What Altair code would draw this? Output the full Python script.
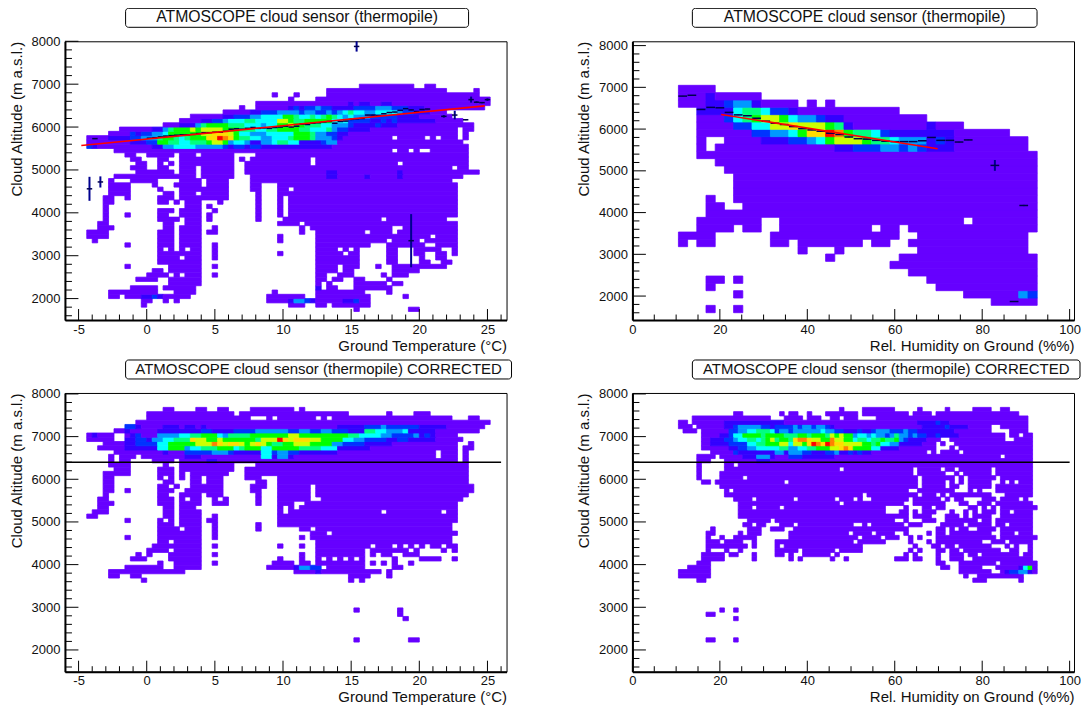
import altair as alt
import pandas as pd

TITLE_A = "ATMOSCOPE cloud sensor (thermopile)"
TITLE_B = "ATMOSCOPE cloud sensor (thermopile) CORRECTED"
XT_TEMP = "Ground Temperature (°C)"
XT_HUM = "Rel. Humidity on Ground (%%)"
YT = "Cloud Altitude (m a.s.l.)"

LEVEL_COLORS = ["#6600ff", "#3300ff", "#0033ff", "#0099ff", "#00ffff", "#00ff80",
                "#00ff00", "#ccff00", "#ffdd00", "#ff8000", "#ff0000"]

# occupied bins per row: {row: [(first_bin, end_bin), ...]}
P1_RUNS = {
54: [(54,64),(66,68)],
53: [(48,70),(75,76)],
52: [(38,39),(42,43),(48,76)],
51: [(41,42),(46,78)],
50: [(35,78)],
49: [(32,33),(35,77)],
48: [(29,70)],
47: [(23,71)],
46: [(21,73)],
45: [(18,75)],
44: [(10,72),(73,75)],
43: [(8,72),(73,74)],
42: [(4,60),(61,66),(67,68),(69,72),(73,74)],
41: [(4,73)],
40: [(4,74)],
39: [(9,60),(61,63),(64,65),(67,74)],
38: [(11,13),(15,20),(21,24),(25,31),(35,74)],
37: [(12,14),(17,19),(21,31),(32,33),(34,45),(46,74)],
36: [(13,15),(17,18),(19,20),(21,31),(33,45),(46,61),(62,74)],
35: [(12,15),(17,19),(21,24),(25,31),(33,71),(72,74)],
34: [(13,20),(21,24),(25,31),(33,76)],
33: [(9,20),(20,24),(25,31),(34,73)],
32: [(8,9),(12,17),(21,25),(26,30),(34,71)],
31: [(8,12),(16,17),(20,25),(26,30),(34,36),(39,72)],
30: [(8,12),(17,18),(21,25),(25,30),(34,36),(39,41),(42,72)],
29: [(8,12),(18,20),(21,24),(25,30),(35,36),(39,72)],
28: [(7,9),(11,12),(17,20),(21,30),(35,36),(39,40),(41,72)],
27: [(7,9),(17,19),(20,21),(22,25),(28,29),(35,36),(39,40),(41,72)],
26: [(7,8),(22,25),(26,27),(35,36),(39,40),(41,72)],
25: [(7,8),(17,20),(21,25),(27,28),(35,36),(39,40),(41,72)],
24: [(7,8),(11,12),(17,19),(21,25),(26,27),(35,36),(39,40),(41,72)],
23: [(7,8),(17,21),(22,25),(26,27),(35,36),(40,58),(59,70)],
22: [(6,8),(18,20),(22,25),(39,43),(44,72)],
21: [(6,9),(18,20),(21,25),(27,28),(43,44),(45,60),(62,72)],
20: [(4,8),(17,20),(21,25),(26,28),(43,44),(46,55),(56,60),(61,72)],
19: [(4,8),(17,20),(21,25),(39,40),(46,67),(68,72)],
18: [(5,6),(17,20),(21,25),(39,40),(46,59),(60,65),(66,72)],
17: [(11,12),(17,20),(21,25),(27,28),(46,56),(59,66),(68,72)],
16: [(17,18),(19,20),(21,22),(23,25),(27,28),(46,50),(51,52),(53,54),(59,61),(64,69),(71,72)],
15: [(17,25),(27,28),(39,40),(46,51),(52,54),(59,61),(64,66),(68,70),(71,72)],
14: [(17,21),(22,25),(27,28),(46,54),(59,61),(65,66),(68,70)],
13: [(17,25),(46,54),(59,61),(65,67),(69,71)],
12: [(11,12),(19,25),(27,28),(46,50),(51,54),(57,58),(60,70)],
11: [(16,18),(19,25),(46,50),(51,53),(60,65)],
10: [(15,19),(20,21),(22,25),(27,28),(46,48),(50,53),(58,59),(60,63)],
9:  [(13,17),(19,25),(46,48),(49,51),(53,55),(59,60)],
8:  [(19,25),(46,47),(48,49),(53,59),(60,62)],
7:  [(12,17),(18,24),(46,47),(48,50),(53,60)],
6:  [(8,17),(20,24),(38,39),(46,55),(59,60)],
5:  [(8,10),(11,21),(21,23),(37,44),(46,56),(62,63)],
4:  [(14,16),(18,19),(20,21),(37,56)],
3:  [(14,15),(41,44),(46,48),(49,56)],
2:  [(53,54),(63,65)],
}
P1_HOT = [
(50,(52,"10110011")),
(49,(41,"121223221"+"111"+"222"+"23332"+"22111")),
(48,(34,"11222"+"333"+"32332232"+"345443344443"+"22111")),
(47,(29,"11222"+"334"+"444"+"6"+"6"+"54454565"+"43433"+"32222"+"21111")),
(46,(25,"1122"+"344"+"4554"+"444"+"77"+"655666"+"66"+"444"+"222"+"2112121111111")),
(45,(21,"111"+"3566"+"66"+"5554"+"443"+"44"+"66"+"76"+"655"+"544333"+"2111"+"12111")),
(44,(16,"11"+"356"+"667677"+"77"+"666"+"55544"+"556666"+"554445"+"3221111")),
(43,(12,"2122"+"334"+"6666667"+"7888"+"76"+"44333"+"44444"+"6665"+"3322"+"11")),
(42,(7,"01111"+"22333"+"566545666"+"88"+"a"+"9"+"8"+"65544"+"334445"+"6665"+"3332"+"1")),
(41,(12,"11122"+"6655"+"44555"+"6776"+"3443"+"11"+"33455"+"44"+"1111"+"2"+"33")),
(40,(4,"21")),
(40,(16,"11"+"33444433"+"3332"+"1221"+"22"+"11111"+"11111111")),
(34,(48,"11")),(34,(61,"1")),
(33,(48,"11")),(33,(55,"1")),(33,(61,"1")),
(4,(41,"13321")),(5,(14,"1121")),(4,(51,"112")),
(7,(46,"1")),
]

P2_RUNS = {
31: [(5,9)],
30: [(5,14)],
29: [(5,18),(19,20),(21,22)],
28: [(7,29)],
27: [(7,32)],
26: [(7,36)],
25: [(7,41)],
24: [(7,8),(10,43)],
23: [(7,8),(9,43)],
22: [(7,44)],
21: [(9,44)],
20: [(10,44)],
19: [(11,44)],
18: [(11,44)],
17: [(11,44)],
16: [(8,9),(11,44)],
15: [(8,10),(12,44)],
14: [(8,44)],
13: [(7,14),(16,36),(37,44)],
12: [(7,11),(12,14),(16,26),(27,29),(30,44)],
11: [(5,9),(15,29),(31,43)],
10: [(5,6),(7,9),(15,17),(18,25),(26,28),(30,43)],
9:  [(18,19),(22,23),(31,43)],
8:  [(21,22),(29,44)],
7:  [(28,44)],
6:  [(30,44)],
5:  [(8,10),(11,12),(32,44)],
4:  [(8,9),(33,44)],
3:  [(11,12),(36,44)],
2:  [(39,44)],
1:  [(8,9),(11,12)],
}
P2_HOT = [
(30,(8,"1")),
(29,(8,"112331")),
(28,(7,"11114554221")),
(27,(10,"2456776433211")),
(26,(11,"2244778777651")),
(26,(32,"1")),
(25,(13,"22334688a9655421111111")),
(24,(14,"111223467776554333121")),
(23,(22,"1122233232111")),
(3,(42,"32")),
]

P3_RUNS = {
61: [(18,20),(24,26),(28,30),(34,42),(43,44)],
60: [(15,31),(32,52),(59,60),(64,67)],
59: [(15,34),(37,38),(39,46),(47,48),(49,71),(74,76)],
58: [(13,78)],
57: [(11,77)],
56: [(9,76)],
55: [(4,9),(11,72)],
54: [(4,9),(11,73)],
53: [(7,72),(74,75)],
52: [(6,72),(73,75)],
51: [(9,68),(69,72),(73,74)],
50: [(8,9),(10,13),(14,68),(69,72),(73,74)],
49: [(8,9),(10,12),(16,20),(21,72),(73,74)],
48: [(8,12),(18,19),(21,31),(35,74)],
47: [(9,12),(17,20),(21,31),(33,74)],
46: [(7,12),(17,20),(21,22),(23,30),(33,74)],
45: [(7,9),(17,18),(19,20),(21,22),(23,25),(26,29),(33,36),(39,74)],
44: [(7,9),(18,20),(23,25),(26,29),(35,37),(39,74)],
43: [(7,9),(17,19),(20,21),(23,29),(34,37),(39,45),(46,75)],
42: [(7,9),(11,12),(17,20),(22,29),(34,36),(39,45),(46,75)],
41: [(7,8),(17,19),(21,25),(26,29),(35,36),(39,45),(46,74)],
40: [(6,8),(17,20),(21,22),(23,25),(27,28),(29,30),(35,36),(39,45),(47,73)],
39: [(6,9),(17,20),(21,25),(27,30),(35,36),(39,42),(44,46),(46,72)],
38: [(6,8),(18,20),(21,24),(39,40),(41,42),(43,72)],
37: [(5,8),(18,20),(21,25),(39,40),(41,58),(59,69),(70,72)],
36: [(4,6),(18,20),(21,25),(27,28),(39,72)],
35: [(11,12),(17,18),(19,20),(21,25),(26,27),(27,28),(39,72)],
34: [(17,20),(21,25),(27,28),(35,36),(39,71)],
33: [(17,21),(22,25),(27,28),(35,36),(43,45),(46,71)],
32: [(17,25),(27,28),(45,48),(49,72)],
31: [(11,12),(17,25),(27,28),(43,44),(45,71)],
30: [(17,19),(20,25),(46,71)],
29: [(16,21),(21,25),(27,28),(39,40),(43,44),(46,56),(57,60),(61,62),(63,64),(65,66),(67,69),(70,72)],
28: [(15,16),(16,19),(20,25),(46,55),(56,63),(64,65),(69,70),(71,72)],
27: [(13,14),(15,16),(19,25),(27,28),(43,44),(46,55),(56,57),(58,60),(62,65)],
26: [(12,15),(19,25),(39,40),(43,44),(46,47),(48,49),(50,51),(52,53),(54,55),(60,61),(65,69),(71,72)],
25: [(17,18),(20,25),(27,28),(38,42),(43,45),(46,55),(56,57),(58,59),(60,61),(63,64)],
24: [(11,18),(20,25),(37,45),(46,47),(48,55),(60,62)],
23: [(8,22),(42,46),(46,58),(59,60)],
22: [(8,10),(12,14),(52,56),(59,60)],
21: [(14,15),(52,53),(54,55)],
14: [(53,54),(61,62)],
13: [(61,62)],
12: [(62,63)],
7:  [(53,54),(63,65)],
}
P3_HOT = [
(57,(11,"221")),
(57,(18,"11101101")),
(57,(50,"11111222322222211111")),
(56,(11,"1")),
(56,(17,"11111111")),
(56,(25,"221111"+"2222"+"333333"+"22332233"+"222111"+"5544"+"3334"+"11111")),
(55,(5,"1")),(55,(12,"12")),
(55,(17,"33"+"33"+"4455"+"666"+"43"+"5555"+"66"+"6666"+"677"+"6666"+"66666"+"55"+"4444"+"33"+"2222"+"3121")),
(54,(11,"1"+"1221"+"33"+"44"+"555"+"87766"+"766"+"6666"+"577"+"7"+"a"+"87"+"888"+"7766"+"66"+"44"+"3322"+"22"+"112211111")),
(53,(11,"1"+"122"+"22"+"44"+"666"+"66777"+"98"+"78"+"876787"+"655"+"66777"+"6666"+"33"+"222211111")),
(52,(11,"111111"+"44"+"666"+"3"+"44555"+"666"+"45"+"666"+"44"+"66666"+"5555"+"444"+"111111")),
(51,(18,"1")),
(51,(22,"22222333211111"+"44"+"2332"+"211"+"111"+"11")),
(50,(22,"111")),(50,(36,"441331")),
(49,(26,"11")),
(23,(46,"1")),(24,(42,"13322")),
]

P4_RUNS = {
61: [(45,46),(50,57),(62,63),(68,69),(74,78),(80,82)],
60: [(22,24),(32,33),(34,36),(38,39),(42,49),(50,53),(53,60),(61,65),(66,84)],
59: [(13,30),(33,37),(38,41),(43,45),(46,49),(53,86)],
58: [(10,12),(13,86)],
57: [(10,13),(14,78),(80,86)],
56: [(11,14),(15,78),(82,86)],
55: [(15,81),(82,84),(85,87)],
54: [(15,67),(69,81),(83,87)],
53: [(15,66),(67,68),(70,87)],
52: [(15,66),(69,70),(71,87)],
51: [(17,64),(65,66),(67,71),(72,87)],
50: [(14,18),(19,80),(81,87)],
49: [(14,17),(20,87)],
48: [(14,15),(20,22),(23,87)],
47: [(14,15),(20,45),(46,61),(62,67),(68,70),(71,78),(79,87)],
46: [(14,15),(19,61),(62,68),(70,71),(72,78),(79,87)],
45: [(14,15),(19,24),(25,62),(63,70),(71,72),(73,79),(80,87)],
44: [(15,17),(18,33),(34,62),(63,68),(69,70),(71,72),(73,78),(80,81),(82,83),(84,87)],
43: [(19,62),(63,68),(69,71),(73,78),(79,87)],
42: [(20,21),(22,60),(62,70),(73,74),(75,76),(79,87)],
41: [(20,50),(51,62),(63,66),(67,68),(69,78),(81,87)],
40: [(22,26),(27,35),(36,44),(45,48),(49,50),(52,60),(61,67),(68,69),(70,72),(76,79),(80,84),(85,86)],
39: [(23,45),(46,59),(61,68),(71,73),(75,78),(79,87)],
38: [(23,26),(27,32),(33,55),(59,60),(63,65),(66,68),(73,75),(76,77),(78,79),(80,88)],
37: [(23,55),(58,60),(61,62),(63,66),(69,70),(72,73),(74,75),(76,79),(80,82),(83,87)],
36: [(23,60),(61,65),(68,71),(72,73),(74,78),(80,87)],
35: [(25,30),(31,57),(59,60),(63,66),(68,75),(76,78),(79,87)],
34: [(24,26),(27,29),(32,35),(36,48),(50,51),(52,59),(60,63),(67,72),(73,78),(79,81),(82,87)],
33: [(17,18),(25,28),(30,33),(35,60),(66,68),(69,70),(71,73),(75,79),(80,87)],
32: [(16,18),(23,24),(25,28),(34,47),(48,52),(53,57),(59,60),(64,65),(66,68),(69,78),(80,83),(84,87)],
31: [(16,17),(19,20),(22,27),(34,49),(50,54),(55,58),(60,61),(62,63),(66,79),(80,88)],
30: [(16,19),(20,24),(26,27),(31,48),(49,55),(60,61),(64,65),(66,76),(78,81),(82,87)],
29: [(16,25),(26,27),(31,32),(33,50),(61,62),(65,67),(68,70),(71,78),(81,82),(83,84),(86,87)],
28: [(16,17),(20,21),(23,24),(31,36),(37,44),(45,50),(60,61),(62,63),(66,68),(69,71),(72,80),(82,84),(86,87)],
27: [(15,20),(21,23),(26,27),(31,33),(34,35),(37,43),(44,45),(59,60),(61,62),(66,67),(69,72),(73,75),(76,84),(85,87)],
26: [(15,20),(26,27),(34,35),(36,37),(43,44),(46,47),(57,60),(61,63),(66,67),(69,72),(74,87)],
25: [(14,17),(66,68),(71,79),(80,88)],
24: [(12,17),(67,69),(71,76),(79,88)],
23: [(10,17),(71,78),(80,88)],
22: [(10,17),(72,73),(75,85)],
21: [(14,16),(74,77),(84,85)],
14: [(19,20),(22,23)],
13: [(16,18)],
12: [(22,23)],
7:  [(16,18),(22,23)],
}
P4_HOT = [
(58,(20,"1111111111111")),(58,(62,"1111211")),
(57,(20,"11233333221"+"2222323323321")),(57,(63,"1111121111")),
(56,(21,"2233"+"445554"+"2332"+"333333433"+"221112112"+"33322"+"232211"+"111111")),
(55,(19,"112"+"44"+"6666"+"566"+"6655"+"56656665"+"76766"+"34434"+"33235"+"332322"+"1121111")),
(54,(17,"11122"+"3"+"4455"+"4567"+"5665"+"8998"+"7766"+"9"+"7766"+"45545"+"56556"+"321111")),
(53,(17,"11112"+"222"+"445566"+"677"+"4"+"7768"+"a"+"9"+"8"+"a"+"9"+"88"+"7777"+"66"+"56"+"4433"+"11111")),
(52,(21,"1122"+"334444"+"455"+"3344"+"55666"+"778"+"9"+"8"+"6666"+"44"+"1111")),
(51,(22,"2"+"11111111"+"33"+"1"+"333"+"221112"+"23"+"1121211")),
(50,(24,"111333")),(50,(30,"1")),(50,(34,"2221111111")),
(49,(27,"111")),
(24,(84,"146")),(23,(81,"12233")),(23,(86,"1")),
]

P1_LINE_X = [-4.8, 24.8]
P1_LINE_Y = [5570, 6494]
P2_LINE_X = [20.3, 69.8]
P2_LINE_Y = [6350, 5530]
FLOOR_Y = 6400

# profile points: x, y, half height of the error bar
P1_PROF = [(-4.2,4560,280),(-3.4,4720,130),(15.4,7880,120),(19.4,3350,620),(22.6,6280,100),
(21.8,6250,30),(23.8,6640,70),(23.4,6170,10),(24.2,6580,20),(24.6,6570,15),(25.0,6640,30),
(-3.8,5730,10),(0.2,5740,5),(0.6,5750,5),(1.0,5770,5),(1.4,5790,5),(1.8,5800,5),(2.2,5810,5),
(2.6,5820,5),(3.0,5820,5),(3.4,5830,5),(3.8,5850,5),(4.2,5870,5),(4.6,5870,5),(5.0,5880,5),
(5.4,5880,5),(5.8,5900,5),(6.2,5950,5),(6.6,5960,5),(7.0,5950,5),(7.4,5970,5),(7.8,5990,5),
(8.2,5970,5),(8.6,5980,5),(9.0,5970,5),(9.4,5990,5),(9.8,6000,5),(10.2,6020,5),(10.6,6000,5),
(11.0,6020,5),(11.4,6070,5),(11.8,6060,5),(12.2,6090,5),(12.6,6100,5),(13.0,6120,5),(13.4,6130,5),
(13.8,6090,5),(14.2,6130,5),(14.6,6140,5),(15.0,6180,20),(15.4,6190,5),(15.8,6200,5),(16.2,6280,5),
(16.6,6280,5),(17.0,6270,5),(17.4,6310,5),(17.8,6340,5),(18.2,6350,5),(18.6,6390,5),(19.0,6430,5),
(19.4,6400,5),(19.8,6360,5),(20.2,6410,5),(20.6,6420,5)]
P2_PROF = [(11.5,6790,5),(13.6,6810,5),(15.7,6470,10),(17.9,6520,10),(20.0,6510,5),(22.1,6400,5),
(24.2,6340,5),(26.3,6320,5),(28.4,6260,5),(30.5,6190,5),(32.6,6140,5),(34.7,6110,5),(36.8,6060,5),
(38.9,6010,5),(41.0,5980,5),(43.1,5950,5),(45.3,5900,5),(47.4,5870,5),(49.5,5810,5),(51.6,5770,5),
(53.7,5760,5),(55.8,5730,5),(57.9,5710,5),(60.0,5700,5),(62.1,5700,5),(64.2,5700,5),(66.3,5720,5),
(68.4,5800,5),(70.5,5730,5),(72.6,5730,5),(74.7,5690,5),(76.8,5740,5),(82.9,5130,130),(89.5,4170,15),
(87.3,1870,10)]

Y_MAJOR = [2000,3000,4000,5000,6000,7000,8000]
Y_MINOR = [1600,1800,2200,2400,2600,2800,3200,3400,3600,3800,4200,4400,4600,4800,
           5200,5400,5600,5800,6200,6400,6600,6800,7200,7400,7600,7800]
T_MAJOR = [-5,0,5,10,15,20,25]
T_MINOR = [-4,-3,-2,-1,1,2,3,4,6,7,8,9,11,12,13,14,16,17,18,19,21,22,23,24,26]
H_MAJOR = [0,20,40,60,80,100]
H_MINOR = [5,10,15,25,30,35,45,50,55,65,70,75,85,90,95]

W, H = 442, 279
FONT = "Liberation Sans"


def cells(runs, hot, x0, dx, y0, dy):
    grid = {}
    for r, spans in runs.items():
        for a, b in spans:
            for i in range(a, b):
                grid[(i, r)] = 0
    for r, (start, s) in hot:
        for k, c in enumerate(s):
            grid[(start + k, r)] = int(c, 16)
    rows = []
    for (r, i), v in sorted(((r, i), v) for (i, r), v in grid.items()):
        if rows and rows[-1]["r"] == r and rows[-1]["e"] == i and rows[-1]["v"] == v:
            rows[-1]["e"] = i + 1
        else:
            rows.append(dict(r=r, s=i, e=i + 1, v=v))
    return pd.DataFrame([dict(x0=x0 + dx * c["s"], x1=x0 + dx * c["e"],
                              y0=y0 + dy * c["r"], y1=y0 + dy * (c["r"] + 1), v=c["v"]) for c in rows])


def panel(runs, hot, x0, dx, y0, dy, xdom, ydom, xmaj, xmin, xtitle, title, box, tsize,
          prof=None, line=None, floor=None, xh=0.2):
    xs = alt.Scale(domain=xdom, nice=False, zero=False)
    ys = alt.Scale(domain=ydom, nice=False, zero=False)
    xax = alt.Axis(values=xmaj, labelExpr="toString(datum.value)", ticks=False, grid=False,
                   domainWidth=2, domainColor="black", labelFontSize=13, labelPadding=3,
                   labelFont=FONT, labelColor="#111", title=xtitle, titleFont=FONT,
                   titleFontSize=15, titleFontWeight="normal", titleAnchor="end", titleColor="#111",
                   titlePadding=2, labelFlush=False, labelOverlap=False)
    yax = alt.Axis(values=Y_MAJOR, format="d", ticks=False, grid=False, domainWidth=2,
                   domainColor="black", labelFontSize=13, labelPadding=5, labelFont=FONT,
                   labelColor="#111", title=YT, titleFont=FONT, titleFontSize=15,
                   titleFontWeight="normal", titleAnchor="end", titleColor="#111", titlePadding=7,
                   labelFlush=False, labelOverlap=False)
    df = cells(runs, hot, x0, dx, y0, dy)
    color = alt.Scale(domain=list(range(len(LEVEL_COLORS))), range=LEVEL_COLORS, type="ordinal")

    def xenc(f):
        return alt.X(f, scale=xs, axis=xax)

    def yenc(f):
        return alt.Y(f, scale=ys, axis=yax)

    layers = [alt.Chart(df).mark_rect(strokeWidth=0.8).encode(
        x=xenc("x0:Q"), x2="x1:Q", y=yenc("y0:Q"), y2="y1:Q",
        color=alt.Color("v:O", scale=color, legend=None),
        stroke=alt.Stroke("v:O", scale=color, legend=None))]

    if prof:
        p = pd.DataFrame(prof, columns=["x", "y", "e"])
        p["xa"], p["xb"], p["ya"], p["yb"] = p.x - xh, p.x + xh, p.y - p.e, p.y + p.e
        layers.append(alt.Chart(p).mark_rule(color="#000090", strokeWidth=2).encode(
            x=xenc("x:Q"), y=yenc("ya:Q"), y2="yb:Q"))
        layers.append(alt.Chart(p).mark_rule(color="#000050", strokeWidth=1.5).encode(
            x=xenc("xa:Q"), x2="xb:Q", y=yenc("y:Q")))
    if line:
        l = pd.DataFrame({"x": line[0], "y": line[1]})
        layers.append(alt.Chart(l).mark_line(color="#ff0000", strokeWidth=1.6).encode(
            x=xenc("x:Q"), y=yenc("y:Q")))
    if floor:
        f = pd.DataFrame({"xa": [xdom[0]], "xb": [floor], "y": [FLOOR_Y]})
        layers.append(alt.Chart(f).mark_rule(color="black", strokeWidth=1.5).encode(
            x=xenc("xa:Q"), x2="xb:Q", y=yenc("y:Q")))
    # inward ticks
    ty = pd.DataFrame({"y": Y_MAJOR})
    tym = pd.DataFrame({"y": [v for v in Y_MINOR if ydom[0] <= v <= ydom[1]]})
    tx = pd.DataFrame({"x": xmaj})
    txm = pd.DataFrame({"x": [v for v in xmin if xdom[0] <= v <= xdom[1]]})
    layers += [
        alt.Chart(ty).mark_rule(color="black").encode(y=yenc("y:Q"), x=alt.value(0), x2=alt.value(13.5)),
        alt.Chart(tym).mark_rule(color="black").encode(y=yenc("y:Q"), x=alt.value(0), x2=alt.value(7)),
        alt.Chart(tx).mark_rule(color="black").encode(x=xenc("x:Q"), y=alt.value(H), y2=alt.value(H - 11)),
        alt.Chart(txm).mark_rule(color="black").encode(x=xenc("x:Q"), y=alt.value(H), y2=alt.value(H - 5.5)),
    ]
    # title box
    layers.append(alt.Chart(pd.DataFrame({"t": [title]})).mark_rect(
        fill="white", stroke="black", strokeWidth=1, cornerRadius=3).encode(
        x=alt.value(box[0]), x2=alt.value(box[1]), y=alt.value(-33), y2=alt.value(-14)))
    layers.append(alt.Chart(pd.DataFrame({"t": [title]})).mark_text(
        font=FONT, fontSize=tsize, color="#111", align="center", baseline="middle").encode(
        x=alt.value((box[0] + box[1]) / 2), y=alt.value(-24), text="t:N"))
    return alt.layer(*layers).resolve_scale(color="independent", stroke="independent").properties(width=W, height=H)


p1 = panel(P1_RUNS, P1_HOT, -6, 0.4, 1500, 100, [-6, 26.4], [1500, 8000], T_MAJOR, T_MINOR, XT_TEMP, TITLE_A,
           (60.7, 404), 15.8, P1_PROF, (P1_LINE_X, P1_LINE_Y))
p2 = panel(P2_RUNS, P2_HOT, 0, 2.104, 1426, 175.7, [0, 101], [1426, 8103], H_MAJOR, H_MINOR, XT_HUM, TITLE_A,
           (60, 405), 15.8, P2_PROF, (P2_LINE_X, P2_LINE_Y), xh=1.0)
p3 = panel(P3_RUNS, P3_HOT, -6, 0.4, 1485, 100, [-6, 26.4], [1490, 8023], T_MAJOR, T_MINOR, XT_TEMP, TITLE_B,
           (60.7, 447), 15, floor=26)
p4 = panel(P4_RUNS, P4_HOT, 0, 1.052, 1485, 100, [0, 101], [1490, 8023], H_MAJOR, H_MINOR, XT_HUM, TITLE_B,
           (60, 448), 15, floor=100)

chart = alt.concat(p1, p2, p3, p4, columns=2, bounds="flush", spacing={"row": 73, "column": 126}).properties(
    padding={"left": 0, "top": -1, "right": 0, "bottom": 0},
).configure_view(stroke="black", strokeWidth=1)
chart.save("out.html", embed_options={"renderer": "svg", "actions": False})
